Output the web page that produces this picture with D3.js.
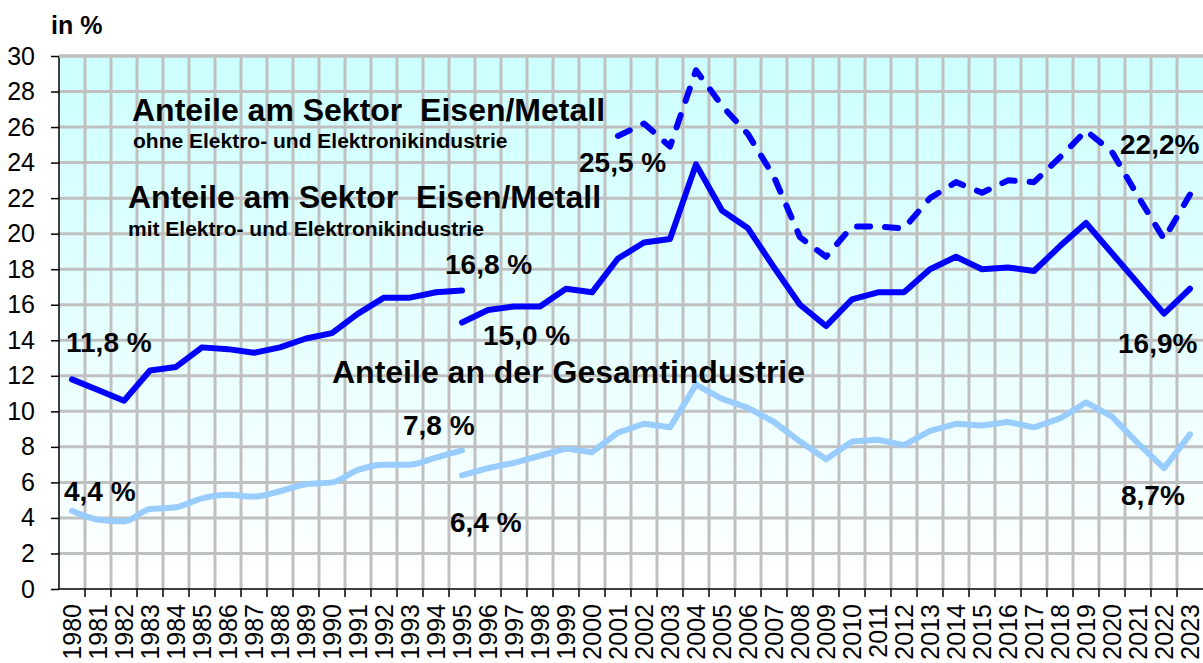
<!DOCTYPE html>
<html lang="de">
<head>
<meta charset="utf-8">
<script src="https://cdn.jsdelivr.net/npm/d3@7"></script>
<style>
  html, body { margin: 0; padding: 0; background: #ffffff; }
  svg { display: block; font-family: "Liberation Sans", Arial, sans-serif; }
  .keep-space { white-space: pre; }
</style>
</head>
<body>
<svg id="chart" width="1203" height="663"></svg>
<script>
// Jahre (Kategorien der x-Achse)
const years = [
  "1980","1981","1982","1983","1984","1985","1986","1987","1988","1989",
  "1990","1991","1992","1993","1994","1995","1996","1997","1998","1999",
  "2000","2001","2002","2003","2004","2005","2006","2007","2008","2009",
  "2010","2011","2012","2013","2014","2015","2016","2017","2018","2019",
  "2020","2021","2022","2023"
];

// Anteile am Sektor Eisen/Metall mit Elektro- und Elektronikindustrie (in %)
const mitElektroYearsA = years.slice(0, 16);          // 1980–1995 (alte Abgrenzung)
const mitElektroA = [11.8, 11.2, 10.6, 12.3, 12.5, 13.6, 13.5, 13.3, 13.6, 14.1,
                     14.4, 15.5, 16.4, 16.4, 16.7, 16.8];
const mitElektroYearsB = years.slice(15);             // 1995–2023 (neue Abgrenzung)
const mitElektroB = [15.0, 15.7, 15.9, 15.9, 16.9, 16.7, 18.6, 19.5, 19.7, 23.9,
                     21.3, 20.3, 18.1, 16.0, 14.8, 16.3, 16.7, 16.7, 18.0, 18.7,
                     18.0, 18.1, 17.9, 19.3, 20.6, 18.9, 17.2, 15.5, 16.9];

// Anteile am Sektor Eisen/Metall ohne Elektro- und Elektronikindustrie (in %)
const ohneElektroYears = years.slice(21);             // 2001–2023
const ohneElektro = [25.5, 26.2, 24.9, 29.2, 27.2, 25.6, 23.2, 19.8, 18.7, 20.4,
                     20.4, 20.3, 22.0, 22.9, 22.3, 23.0, 22.9, 24.3, 25.8, 24.6,
                     22.1, 19.7, 22.2];

// Anteile an der Gesamtindustrie (in %)
const gesamtYearsA = years.slice(0, 16);              // 1980–1995
const gesamtA = [4.4, 3.9, 3.8, 4.5, 4.6, 5.1, 5.3, 5.2, 5.5, 5.9,
                 6.0, 6.7, 7.0, 7.0, 7.4, 7.8];
const gesamtYearsB = years.slice(15);                 // 1995–2023
const gesamtB = [6.4, 6.8, 7.1, 7.5, 7.9, 7.7, 8.8, 9.3, 9.1, 11.5,
                 10.7, 10.2, 9.4, 8.3, 7.3, 8.3, 8.4, 8.1, 8.9, 9.3,
                 9.2, 9.4, 9.1, 9.6, 10.5, 9.7, 8.2, 6.8, 8.7];

// Werte der y-Achse
const yTicks = [0, 2, 4, 6, 8, 10, 12, 14, 16, 18, 20, 22, 24, 26, 28, 30];

// Beschriftungen der Endpunkte
const pointLabels = [
  { text: "11,8 %", year: "1980", value: 11.8 },
  { text: "16,8 %", year: "1995", value: 16.8 },
  { text: "15,0 %", year: "1995", value: 15.0 },
  { text: "4,4 %",  year: "1980", value: 4.4 },
  { text: "7,8 %",  year: "1995", value: 7.8 },
  { text: "6,4 %",  year: "1995", value: 6.4 },
  { text: "25,5 %", year: "2001", value: 25.5 },
  { text: "22,2%",  year: "2023", value: 22.2 },
  { text: "16,9%",  year: "2023", value: 16.9 },
  { text: "8,7%",   year: "2023", value: 8.7 }
];
// Versatz der Beschriftungen gegenüber ihrem Punkt (Pixel)
const labelOffsets = [
  [-6, -27], [-17, -17], [21, 22], [-8, -10], [-59, -15],
  [-12, 57], [-39, 36], [-70, -41], [-72, 64], [-69, 71]
];

const seriesTitles = [
  { text: "Anteile am Sektor  Eisen/Metall", size: 32, x: 132, y: 121 },
  { text: "ohne Elektro- und Elektronikindustrie", size: 21, x: 133, y: 148 },
  { text: "Anteile am Sektor  Eisen/Metall", size: 32, x: 128, y: 208 },
  { text: "mit Elektro- und Elektronikindustrie", size: 21, x: 128, y: 236 },
  { text: "Anteile an der Gesamtindustrie", size: 32, x: 332, y: 383 }
];

// ---- Layout ----
const plot = { left: 59, right: 1203, top: 56, bottom: 589 };
const svg = d3.select("#chart");

const x = d3.scaleBand().domain(years).range([plot.left, plot.right]).padding(0);
const y = d3.scaleLinear().domain([0, 30]).range([plot.bottom, plot.top]);
const cx = yr => x(yr) + x.bandwidth() / 2;

// Hintergrund mit Verlauf
const defs = svg.append("defs");
const grad = defs.append("linearGradient")
  .attr("id", "bg").attr("x1", 0).attr("y1", 0).attr("x2", 0).attr("y2", 1);
grad.append("stop").attr("offset", "0%").attr("stop-color", "#ccffff");
grad.append("stop").attr("offset", "100%").attr("stop-color", "#ffffff");

svg.append("rect")
  .attr("x", plot.left).attr("y", plot.top)
  .attr("width", plot.right - plot.left).attr("height", plot.bottom - plot.top)
  .attr("fill", "url(#bg)");

// Gitternetz
const grid = svg.append("g").attr("stroke", "#c0c0c0").attr("stroke-width", 3);
grid.selectAll("line.h").data(yTicks.filter(v => v > 0)).join("line")
  .attr("class", "h")
  .attr("x1", plot.left).attr("x2", plot.right)
  .attr("y1", d => y(d)).attr("y2", d => y(d));
grid.selectAll("line.v").data(years.slice(1)).join("line")
  .attr("class", "v")
  .attr("x1", d => x(d)).attr("x2", d => x(d))
  .attr("y1", plot.top).attr("y2", plot.bottom);

// Linien
const lineLinear = d3.line().x(d => cx(d[0])).y(d => y(d[1]));
const lineSmooth = d3.line().x(d => cx(d[0])).y(d => y(d[1])).curve(d3.curveMonotoneX);
const zipSeries = (ys, vs) => ys.map((yr, i) => [yr, vs[i]]);

const lines = svg.append("g")
  .attr("fill", "none")
  .attr("stroke-linecap", "round")
  .attr("stroke-linejoin", "round");

lines.append("path")
  .attr("d", lineSmooth(zipSeries(gesamtYearsA, gesamtA)))
  .attr("stroke", "#99ccff").attr("stroke-width", 6);
lines.append("path")
  .attr("d", lineLinear(zipSeries(gesamtYearsB, gesamtB)))
  .attr("stroke", "#99ccff").attr("stroke-width", 6);

lines.append("path")
  .attr("d", lineLinear(zipSeries(mitElektroYearsA, mitElektroA)))
  .attr("stroke", "#0000ff").attr("stroke-width", 6);
lines.append("path")
  .attr("d", lineLinear(zipSeries(mitElektroYearsB, mitElektroB)))
  .attr("stroke", "#0000ff").attr("stroke-width", 6);

lines.append("path")
  .attr("d", lineLinear(zipSeries(ohneElektroYears, ohneElektro)))
  .attr("stroke", "#0000ff").attr("stroke-width", 6)
  .attr("stroke-dasharray", "13,15");

// Achsen
const yAxis = svg.append("g")
  .attr("transform", `translate(${plot.left},0)`)
  .call(d3.axisLeft(y).tickValues(yTicks).tickSize(8).tickPadding(16)
        .tickFormat(d3.format("d")));
yAxis.select(".domain").attr("stroke", "#000").attr("stroke-width", 1.5)
  .attr("d", `M0,${plot.top}V${plot.bottom}`);
yAxis.selectAll(".tick line").attr("stroke", "#000").attr("stroke-width", 1.5);
yAxis.selectAll(".tick text")
  .attr("font-size", 25).attr("fill", "#000")
  .attr("font-family", "'Liberation Sans', Arial, sans-serif");

const xAxis = svg.append("g")
  .attr("transform", `translate(0,${plot.bottom})`)
  .call(d3.axisBottom(x).tickSize(0).tickPadding(0));
xAxis.select(".domain").remove();
xAxis.append("line")
  .attr("x1", plot.left).attr("x2", plot.right).attr("y1", 0).attr("y2", 0)
  .attr("stroke", "#000").attr("stroke-width", 1.5);
xAxis.selectAll("line.bt").data(years.slice(1)).join("line")
  .attr("class", "bt")
  .attr("x1", d => x(d)).attr("x2", d => x(d)).attr("y1", 0).attr("y2", 8)
  .attr("stroke", "#000").attr("stroke-width", 1.5);
xAxis.selectAll(".tick text")
  .attr("font-size", 25).attr("fill", "#000")
  .attr("font-family", "'Liberation Sans', Arial, sans-serif")
  .attr("text-anchor", "end")
  .attr("transform", "translate(0,15) rotate(-90)")
  .attr("x", 0).attr("y", 0).attr("dy", "0.36em");

// Obere Begrenzung
svg.append("line")
  .attr("x1", plot.left).attr("x2", plot.right)
  .attr("y1", plot.top).attr("y2", plot.top)
  .attr("stroke", "#c0c0c0").attr("stroke-width", 3);

// Einheit
svg.append("text")
  .attr("x", 51).attr("y", 34)
  .attr("font-size", 25).attr("font-weight", "bold").attr("fill", "#000")
  .text("in %");

// Reihentitel
svg.append("g").selectAll("text").data(seriesTitles).join("text")
  .attr("class", "keep-space")
  .attr("x", d => d.x).attr("y", d => d.y)
  .attr("font-size", d => d.size).attr("font-weight", "bold").attr("fill", "#000")
  .text(d => d.text);

// Wertbeschriftungen
svg.append("g").selectAll("text").data(pointLabels).join("text")
  .attr("x", (d, i) => cx(d.year) + labelOffsets[i][0])
  .attr("y", (d, i) => y(d.value) + labelOffsets[i][1])
  .attr("font-size", 28).attr("font-weight", "bold").attr("fill", "#000")
  .text(d => d.text);
</script>
</body>
</html>
